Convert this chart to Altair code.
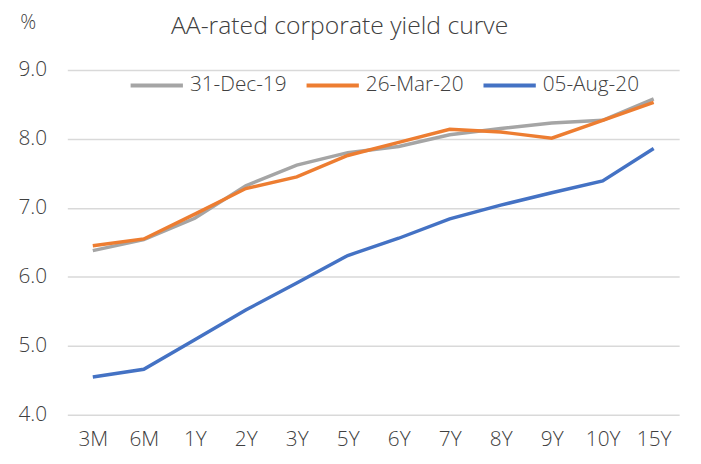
import altair as alt
import pandas as pd

tenors = ["3M", "6M", "1Y", "2Y", "3Y", "5Y", "6Y", "7Y", "8Y", "9Y", "10Y", "15Y"]
series_names = ["31-Dec-19", "26-Mar-20", "05-Aug-20"]
dec19 = [6.38, 6.54, 6.85, 7.32, 7.62, 7.80, 7.89, 8.06, 8.15, 8.23, 8.27, 8.58]
mar20 = [6.45, 6.55, 6.91, 7.28, 7.45, 7.76, 7.95, 8.14, 8.10, 8.01, 8.27, 8.53]
aug20 = [4.55, 4.66, 5.09, 5.52, 5.91, 6.31, 6.56, 6.84, 7.04, 7.22, 7.39, 7.86]
colors = ["#A5A5A5", "#ED7D31", "#4472C4"]

rows = []
for name, vals in zip(series_names, [dec19, mar20, aug20]):
    for t, v in zip(tenors, vals):
        rows.append({"tenor": t, "series": name, "value": v})
df = pd.DataFrame(rows)

FONT = "Open Sans"
FW = 300
TXT = "#404040"

chart = alt.Chart(df).mark_line(strokeWidth=3.5).encode(
    x=alt.X("tenor:N", sort=tenors, title=None,
            scale=alt.Scale(padding=0.5),
            axis=alt.Axis(labelAngle=0, domain=False, ticks=False, labelPadding=14,
                          labelFontSize=21, labelFontWeight=FW, labelColor=TXT, labelFont=FONT)),
    y=alt.Y("value:Q", title="%", scale=alt.Scale(domain=[4, 9], nice=False, zero=False),
            axis=alt.Axis(values=[4, 5, 6, 7, 8, 9], format=".1f", domain=False, ticks=False,
                          labelPadding=21, labelFontSize=21, labelFontWeight=FW,
                          labelColor=TXT, labelFont=FONT,
                          gridColor="#D9D9D9", gridWidth=1.5,
                          titleAngle=0, titleX=-40, titleY=-48, titleAlign="center",
                          titleBaseline="middle", titleFontSize=20, titleFontWeight=FW,
                          titleColor=TXT, titleFont=FONT)),
    color=alt.Color("series:N", sort=series_names,
                    scale=alt.Scale(domain=series_names, range=colors),
                    legend=alt.Legend(title=None, orient="none", direction="horizontal",
                                      legendX=62, legendY=-13,
                                      symbolType="stroke", symbolSize=2800, symbolStrokeWidth=4,
                                      labelFontSize=21, labelFontWeight=FW,
                                      labelColor=TXT, labelFont=FONT,
                                      columnPadding=12, labelOffset=5, padding=0)),
).properties(
    width=619, height=349,
    padding={"left": 60, "top": 60, "right": 14, "bottom": 40},
    autosize=alt.AutoSizeParams(type="none"),
    title=alt.TitleParams("AA-rated corporate yield curve", anchor="middle", dx=-34, dy=27,
                          offset=0, fontSize=25, fontWeight=FW, color=TXT, font=FONT),
).configure_view(stroke=None)

chart.save("out.html", embed_options={"renderer": "svg", "actions": False})
